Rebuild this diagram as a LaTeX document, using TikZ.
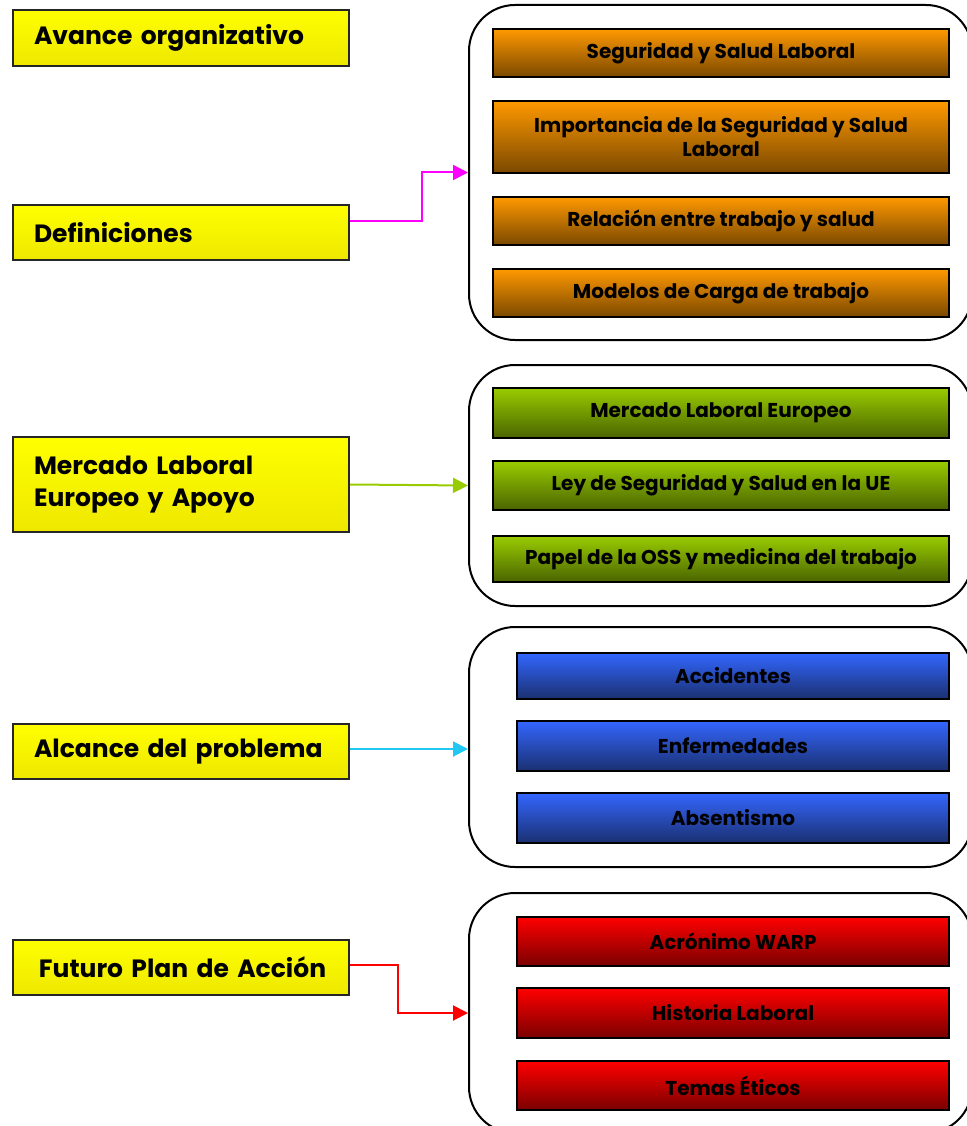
\documentclass[tikz,border=0pt]{standalone}
\usepackage{fontspec}
\setmainfont{Poppins}
\usetikzlibrary{arrows.meta,calc}
\definecolor{orT}{HTML}{FF9900}
\definecolor{orB}{HTML}{7A4800}
\definecolor{grT}{HTML}{99CC00}
\definecolor{grB}{HTML}{4A6400}
\definecolor{blT}{HTML}{3366FF}
\definecolor{blB}{HTML}{1A3070}
\definecolor{rdT}{HTML}{FF0000}
\definecolor{rdB}{HTML}{7A0000}
\definecolor{ylT}{HTML}{FFFF00}
\definecolor{ylB}{HTML}{EEE800}
\definecolor{magArrow}{HTML}{FF00FF}
\definecolor{grArrow}{HTML}{99CC00}
\definecolor{cyArrow}{HTML}{22C8F2}
\definecolor{rdArrow}{HTML}{FF0000}
\begin{document}
\begin{tikzpicture}[x=1pt,y=-1pt,
  leftbox/.style={draw=black!85, line width=2pt, top color=ylT, bottom color=ylB,
    minimum width=336pt, text width=294pt, inner xsep=21pt, align=left,
    font=\fontsize{25}{32}\selectfont\bfseries},
  container/.style={draw=black, line width=2pt, rounded corners=46pt, fill=white,
    minimum width=503pt},
  item/.style={draw=black, line width=1.6pt, font=\fontsize{20}{24}\selectfont\bfseries,
    align=center, inner sep=0pt},
  oitem/.style={item, top color=orT, bottom color=orB, minimum width=456pt},
  gitem/.style={item, top color=grT, bottom color=grB, minimum width=456pt},
  bitem/.style={item, top color=blT, bottom color=blB, minimum width=432pt},
  ritem/.style={item, top color=rdT, bottom color=rdB, minimum width=432pt},
  conn/.style={line width=2pt, -{Triangle[length=15pt,width=15pt]}}
]
\useasboundingbox (0,0) rectangle (966,1126);

% left boxes
\node[leftbox, minimum height=56pt] (avance) at (181,38) {Avance organizativo};
\node[leftbox, minimum height=55pt] (defs) at (181,232.5) {Definiciones};
\node[leftbox, minimum height=95pt] (merc) at (181,484.5) {Mercado Laboral\\Europeo y Apoyo};
\node[leftbox, minimum height=55pt] (alc) at (181,751.5) {Alcance del problema};
\node[leftbox, minimum height=55pt] (fut) at (181,967.5) {\hspace*{5pt}\mbox{Futuro Plan de Acción}};

% containers
\node[container, minimum height=335pt] (c1) at (720.5,172.5) {};
\node[container, minimum height=241pt] (c2) at (720.5,485.5) {};
\node[container, minimum height=240pt] (c3) at (720.5,747) {};
\node[container, minimum height=240pt] (c4) at (720.5,1013) {};

% orange items
\node[oitem, minimum height=48pt] (o1) at (721,53) {Seguridad y Salud Laboral};
\node[oitem, minimum height=72pt] (o2) at (721,137) {Importancia de la Seguridad y Salud\\Laboral};
\node[oitem, minimum height=48pt] (o3) at (721,221) {Relación entre trabajo y salud};
\node[oitem, minimum height=48pt] (o4) at (721,293) {Modelos de Carga de trabajo};

% green items
\node[gitem, minimum height=50pt] (g1) at (721,413) {Mercado Laboral Europeo};
\node[gitem, minimum height=49pt] (g2) at (721,485.5) {Ley de Seguridad y Salud en la UE};
\node[gitem, minimum height=46pt] (g3) at (721,559) {Papel de la OSS y medicina del trabajo};

% blue items
\node[bitem, minimum height=46pt] (b1) at (733,676) {Accidentes};
\node[bitem, minimum height=50pt] (b2) at (733,746) {Enfermedades};
\node[bitem, minimum height=50pt] (b3) at (733,818) {Absentismo};

% red items
\node[ritem, minimum height=49pt] (r1) at (733,941.5) {Acrónimo WARP};
\node[ritem, minimum height=50pt] (r2) at (733,1013) {Historia Laboral};
\node[ritem, minimum height=49pt] (r3) at (733,1085.5) {Temas Éticos};

% connectors
\draw[conn, magArrow] ($(defs.east)+(0,-11.5)$) -- ++(72,0) |- (c1.west);
\draw[conn, grArrow] (merc.east) -- (c2.west);
\draw[conn, cyArrow] ($(alc.east)+(0,-2.5)$) -- ($(c3.west)+(0,2)$);
\draw[conn, rdArrow] ($(fut.east)+(0,-2.5)$) -- ++(48,0) |- (c4.west);
\end{tikzpicture}
\end{document}
